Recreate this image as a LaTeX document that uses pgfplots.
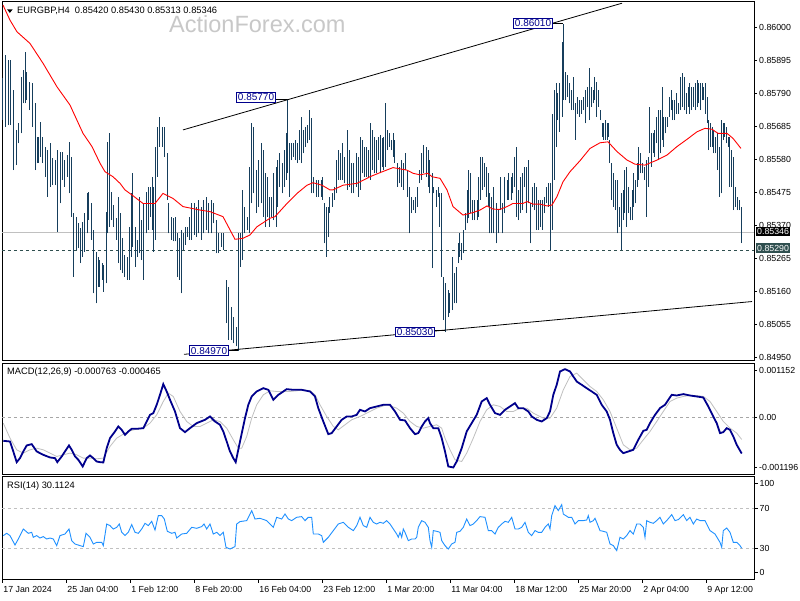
\documentclass[border=0pt]{standalone}
\usepackage{pgfplots}
\pgfplotsset{compat=1.18}
\usepackage{pgfplotstable}
\usepackage{fontspec}
\setmainfont{Liberation Sans}

\definecolor{barc}{RGB}{22,62,92}
\definecolor{navyt}{RGB}{0,0,140}
\definecolor{slate}{RGB}{47,79,79}
\definecolor{dodger}{RGB}{30,144,255}
\definecolor{silv}{RGB}{192,192,192}
\definecolor{wmark}{RGB}{200,200,200}
\newcommand\mtf{\fontsize{8.8}{10}\selectfont}
\newcommand\ttf{\fontsize{9.3}{10.5}\selectfont}

% H4 bars: x position, low, high
\pgfplotstableread{
x lo hi
3 0.85704 0.85837
6 0.85683 0.85911
9 0.85688 0.85895
11 0.85688 0.85895
14 0.85545 0.85800
17 0.85561 0.85673
19 0.85630 0.85694
22 0.85662 0.85842
24 0.85757 0.85863
26 0.85757 0.85922
27 0.85768 0.85858
30 0.85736 0.85826
33 0.85683 0.85821
36 0.85545 0.85757
38 0.85567 0.85651
40 0.85588 0.85699
42 0.85567 0.85651
45 0.85524 0.85620
47 0.85461 0.85609
50 0.85492 0.85630
52 0.85497 0.85583
55 0.85497 0.85577
57 0.85349 0.85609
60 0.85439 0.85604
62 0.85514 0.85604
64 0.85492 0.85577
67 0.85524 0.85593
69 0.85471 0.85635
71 0.85397 0.85588
73 0.85206 0.85408
76 0.85291 0.85397
78 0.85296 0.85376
80 0.85249 0.85360
82 0.85270 0.85381
84 0.85286 0.85408
87 0.85344 0.85471
88 0.85386 0.85476
91 0.85323 0.85439
93 0.85153 0.85355
96 0.85121 0.85286
98 0.85174 0.85270
99 0.85174 0.85259
102 0.85196 0.85249
103 0.85158 0.85243
106 0.85185 0.85413
107 0.85344 0.85635
109 0.85365 0.85662
111 0.85386 0.85476
113 0.85365 0.85434
116 0.85323 0.85392
118 0.85249 0.85461
120 0.85227 0.85408
122 0.85217 0.85328
124 0.85206 0.85275
127 0.85196 0.85270
129 0.85196 0.85365
131 0.85270 0.85471
132 0.85302 0.85535
135 0.85238 0.85365
137 0.85270 0.85323
139 0.85280 0.85461
141 0.85259 0.85386
143 0.85196 0.85439
146 0.85344 0.85476
148 0.85355 0.85492
150 0.85397 0.85492
152 0.85355 0.85524
153 0.85286 0.85492
155 0.85323 0.85620
157 0.85524 0.85683
159 0.85620 0.85715
162 0.85620 0.85683
164 0.85588 0.85683
167 0.85450 0.85598
168 0.85344 0.85439
171 0.85323 0.85397
173 0.85318 0.85392
175 0.85318 0.85397
177 0.85206 0.85344
179 0.85196 0.85328
181 0.85153 0.85355
183 0.85291 0.85344
185 0.85307 0.85365
187 0.85333 0.85365
189 0.85323 0.85397
191 0.85323 0.85439
194 0.85339 0.85439
196 0.85333 0.85429
198 0.85344 0.85450
201 0.85323 0.85429
203 0.85344 0.85450
206 0.85355 0.85461
208 0.85344 0.85439
211 0.85344 0.85450
213 0.85376 0.85439
216 0.85280 0.85386
218 0.85280 0.85344
221 0.85302 0.85344
223 0.85291 0.85344
226 0.85058 0.85196
228 0.85005 0.85174
231 0.85005 0.85111
233 0.84994 0.85079
236 0.84984 0.85047
238 0.84970 0.85344
240 0.85238 0.85344
242 0.85259 0.85482
244 0.85344 0.85429
247 0.85355 0.85397
249 0.85344 0.85556
251 0.85439 0.85694
253 0.85471 0.85683
256 0.85408 0.85545
258 0.85429 0.85577
261 0.85439 0.85630
263 0.85397 0.85609
265 0.85365 0.85535
267 0.85397 0.85524
269 0.85365 0.85461
271 0.85397 0.85461
273 0.85386 0.85535
276 0.85365 0.85556
277 0.85429 0.85577
279 0.85492 0.85598
282 0.85471 0.85567
284 0.85492 0.85609
286 0.85514 0.85662
287 0.85535 0.85770
289 0.85461 0.85630
291 0.85577 0.85630
293 0.85588 0.85630
295 0.85577 0.85641
297 0.85567 0.85630
299 0.85577 0.85673
301 0.85567 0.85715
303 0.85598 0.85673
305 0.85620 0.85683
307 0.85630 0.85688
309 0.85641 0.85736
311 0.85471 0.85710
313 0.85471 0.85524
316 0.85461 0.85514
318 0.85461 0.85514
321 0.85461 0.85514
322 0.85450 0.85524
324 0.85312 0.85439
326 0.85270 0.85429
328 0.85333 0.85429
329 0.85408 0.85461
332 0.85429 0.85471
334 0.85450 0.85492
336 0.85471 0.85577
338 0.85514 0.85609
340 0.85514 0.85598
342 0.85514 0.85630
344 0.85503 0.85588
347 0.85482 0.85673
349 0.85492 0.85609
351 0.85471 0.85567
353 0.85471 0.85567
356 0.85492 0.85598
358 0.85461 0.85588
360 0.85482 0.85651
362 0.85535 0.85641
364 0.85524 0.85620
366 0.85524 0.85620
368 0.85519 0.85609
370 0.85514 0.85694
372 0.85545 0.85673
374 0.85535 0.85651
376 0.85535 0.85641
378 0.85577 0.85651
380 0.85535 0.85657
382 0.85556 0.85646
383 0.85545 0.85651
385 0.85556 0.85757
387 0.85609 0.85673
389 0.85620 0.85662
391 0.85609 0.85641
393 0.85588 0.85662
394 0.85567 0.85641
397 0.85492 0.85567
399 0.85503 0.85556
401 0.85492 0.85577
403 0.85482 0.85567
405 0.85545 0.85598
407 0.85461 0.85545
409 0.85344 0.85492
411 0.85408 0.85461
413 0.85418 0.85450
415 0.85408 0.85461
417 0.85429 0.85492
419 0.85503 0.85545
421 0.85514 0.85598
423 0.85535 0.85625
426 0.85524 0.85620
428 0.85492 0.85609
429 0.85471 0.85577
432 0.85233 0.85535
433 0.85471 0.85492
436 0.85429 0.85482
438 0.85461 0.85492
439 0.85365 0.85471
441 0.85206 0.85471
443 0.85068 0.85206
445 0.85030 0.85185
448 0.85079 0.85164
449 0.85090 0.85153
452 0.85100 0.85270
454 0.85121 0.85217
456 0.85121 0.85238
458 0.85249 0.85312
459 0.85270 0.85344
461 0.85259 0.85312
463 0.85280 0.85355
465 0.85355 0.85408
467 0.85376 0.85482
468 0.85392 0.85545
470 0.85408 0.85535
472 0.85386 0.85450
474 0.85386 0.85450
477 0.85386 0.85450
478 0.85397 0.85524
480 0.85450 0.85588
482 0.85482 0.85588
484 0.85492 0.85567
486 0.85461 0.85556
488 0.85429 0.85535
489 0.85344 0.85471
491 0.85344 0.85461
493 0.85344 0.85492
496 0.85312 0.85439
498 0.85344 0.85418
500 0.85418 0.85524
502 0.85344 0.85439
504 0.85408 0.85524
507 0.85450 0.85514
508 0.85450 0.85535
511 0.85450 0.85524
512 0.85471 0.85535
514 0.85492 0.85588
516 0.85397 0.85620
518 0.85386 0.85482
520 0.85408 0.85524
522 0.85418 0.85535
524 0.85492 0.85556
526 0.85408 0.85556
528 0.85439 0.85577
530 0.85312 0.85439
532 0.85429 0.85492
534 0.85418 0.85503
536 0.85355 0.85492
538 0.85355 0.85450
540 0.85365 0.85450
542 0.85355 0.85450
544 0.85408 0.85461
546 0.85439 0.85492
548 0.85429 0.85503
550 0.85290 0.85503
552 0.85355 0.85725
554 0.85514 0.85800
556 0.85620 0.85821
557 0.85704 0.85789
559 0.85667 0.85821
562 0.85715 0.85954
563 0.85768 0.86010
565 0.85768 0.85858
567 0.85778 0.85848
569 0.85757 0.85821
571 0.85736 0.85800
573 0.85736 0.85842
575 0.85641 0.85757
577 0.85725 0.85778
579 0.85715 0.85768
581 0.85725 0.85768
583 0.85736 0.85778
585 0.85694 0.85800
587 0.85747 0.85810
589 0.85704 0.85869
591 0.85747 0.85810
593 0.85757 0.85800
594 0.85768 0.85842
596 0.85715 0.85826
598 0.85747 0.85800
600 0.85704 0.85736
602 0.85651 0.85694
603 0.85641 0.85694
605 0.85641 0.85704
607 0.85641 0.85694
608 0.85651 0.85694
609 0.85567 0.85641
611 0.85450 0.85567
613 0.85429 0.85535
615 0.85418 0.85514
617 0.85344 0.85514
619 0.85365 0.85429
621 0.85290 0.85471
623 0.85386 0.85482
624 0.85408 0.85545
626 0.85365 0.85556
628 0.85408 0.85492
630 0.85386 0.85429
632 0.85386 0.85482
633 0.85429 0.85535
635 0.85439 0.85514
637 0.85492 0.85567
638 0.85514 0.85620
640 0.85535 0.85598
642 0.85535 0.85567
644 0.85514 0.85556
646 0.85397 0.85577
648 0.85492 0.85588
649 0.85598 0.85747
651 0.85556 0.85662
653 0.85598 0.85662
654 0.85588 0.85673
656 0.85630 0.85715
658 0.85577 0.85736
660 0.85598 0.85736
662 0.85641 0.85810
663 0.85620 0.85715
665 0.85662 0.85715
667 0.85683 0.85715
669 0.85715 0.85778
671 0.85736 0.85800
672 0.85704 0.85768
674 0.85704 0.85768
676 0.85725 0.85789
678 0.85725 0.85757
680 0.85736 0.85842
682 0.85747 0.85853
684 0.85736 0.85842
686 0.85725 0.85789
688 0.85747 0.85810
689 0.85725 0.85821
691 0.85736 0.85810
693 0.85747 0.85810
695 0.85736 0.85821
697 0.85747 0.85832
698 0.85757 0.85821
700 0.85736 0.85821
702 0.85768 0.85821
703 0.85768 0.85810
705 0.85725 0.85821
707 0.85694 0.85778
708 0.85609 0.85704
710 0.85620 0.85694
712 0.85620 0.85683
713 0.85598 0.85673
715 0.85598 0.85651
717 0.85545 0.85662
719 0.85461 0.85620
721 0.85471 0.85704
723 0.85641 0.85694
724 0.85651 0.85694
726 0.85630 0.85683
728 0.85620 0.85651
729 0.85492 0.85651
731 0.85492 0.85609
733 0.85418 0.85588
735 0.85429 0.85492
737 0.85418 0.85461
739 0.85418 0.85450
741 0.85313 0.85429
}\bars

\pgfplotsset{
  mtpanel/.style={
    anchor=north west, scale only axis, width=752pt,
    xmin=2, xmax=754,
    axis line style={black, line width=0.9pt},
    xtick=\empty, ytick pos=right, yticklabel pos=right,
    tick align=outside, major tick length=3pt,
    tick style={black, line width=0.6pt},
    scaled y ticks=false,
    tick label style={font=\mtf},
    yticklabel style={anchor=west, inner xsep=0pt, xshift=2pt},
  },
}

\begin{document}
\begin{tikzpicture}
\path[use as bounding box] (0pt,0pt) rectangle (800pt,-600pt);
\fill[white] (0pt,0pt) rectangle (800pt,-600pt);

% ---- price panel
\begin{axis}[mtpanel, at={(2pt,-1pt)}, height=359pt,
  ymin=0.84941, ymax=0.86083,
  ytick={0.86,0.85895,0.8579,0.85685,0.8558,0.85475,0.8537,0.85265,0.8516,0.85055,0.8495},
  yticklabels={0.86000,0.85895,0.85790,0.85685,0.85580,0.85475,0.85370,0.85265,0.85160,0.85055,0.84950}]
\addplot[silv, line width=0.9pt] coordinates {(2,0.85346) (754,0.85346)};
\addplot[slate, line width=0.9pt, dash pattern=on 3pt off 3pt] coordinates {(2,0.85290) (754,0.85290)};
\addplot[barc, line width=1pt, quiver={u=0, v=\thisrow{hi}-\thisrow{lo}}]
  table[x=x, y=lo] {\bars};
\addplot[red, line width=0.9pt] coordinates {
(3,0.86070) (10,0.86022) (17,0.85985) (30,0.85948) (43,0.85885) (57,0.85810)
(70,0.85752) (83,0.85662) (92,0.85620) (100,0.85567) (105,0.85540) (113,0.85524)
(120,0.85503) (125,0.85482) (132,0.85466) (143,0.85439) (155,0.85439) (163,0.85471)
(173,0.85455) (183,0.85429) (200,0.85418) (210,0.85413) (223,0.85397) (230,0.85355)
(235,0.85325) (243,0.85328) (250,0.85339) (257,0.85365) (270,0.85392) (275,0.85397)
(287,0.85439) (297,0.85471) (307,0.85497) (313,0.85505) (322,0.85497) (330,0.85482)
(333,0.85482) (343,0.85497) (357,0.85503) (370,0.85524) (380,0.85537) (393,0.85553)
(407,0.85545) (413,0.85535) (420,0.85530) (428,0.85535) (432,0.85524) (440,0.85519)
(447,0.85482) (453,0.85429) (463,0.85402) (473,0.85410) (480,0.85418) (487,0.85431)
(493,0.85421) (500,0.85420) (507,0.85429) (513,0.85439) (523,0.85439) (527,0.85445)
(533,0.85437) (540,0.85437) (547,0.85431) (552,0.85434) (557,0.85461) (563,0.85508)
(570,0.85540) (580,0.85575) (590,0.85614) (600,0.85632) (608,0.85635) (617,0.85604)
(627,0.85577) (635,0.85564) (645,0.85561) (657,0.85577) (667,0.85593) (677,0.85620)
(687,0.85643) (697,0.85667) (705,0.85678) (712,0.85675) (718,0.85662) (727,0.85662)
(733,0.85646) (741,0.85614)};
\addplot[black, line width=0.8pt] coordinates {(183,0.85673) (622,0.86076)};
\addplot[black, line width=0.8pt] coordinates {(184,0.84959) (752,0.85127)};
% extreme labels
\draw[black, line width=0.8pt] (axis cs:276,0.85770) -- (axis cs:287,0.85770);
\draw[black, line width=0.8pt] (axis cs:553,0.86012) -- (axis cs:563,0.86012);
\draw[black, line width=0.8pt] (axis cs:435,0.85035) -- (axis cs:445,0.85035);
\draw[black, line width=0.8pt] (axis cs:228,0.84973) -- (axis cs:238,0.84973);
\tikzset{hl/.style={draw=navyt, fill=white, text=navyt, line width=0.8pt,
  font=\fontsize{10}{11}\selectfont, inner xsep=1.5pt, inner ysep=1.2pt, anchor=east}}
\node[hl] at (axis cs:276,0.85777) {0.85770};
\node[hl] at (axis cs:553,0.86012) {0.86010};
\node[hl] at (axis cs:435,0.85031) {0.85030};
\node[hl] at (axis cs:229,0.84971) {0.84970};
\end{axis}

% ---- MACD panel
\begin{axis}[mtpanel, at={(2pt,-363pt)}, height=111pt,
  ymin=-0.001196, ymax=0.001152,
  ytick={0.001004,0,-0.001048},
  yticklabels={0.001152,0.00,-0.001196}]
\addplot[gray!70, line width=0.7pt, dash pattern=on 3pt off 3pt] coordinates {(2,0) (754,0)};
\addplot[silv, line width=0.8pt] coordinates {
(3.3,-0.000120) (10,-0.000437) (16.7,-0.000684) (23.3,-0.000754) (30,-0.000684)
(36.7,-0.000649) (43.3,-0.000684) (50,-0.000754) (56.7,-0.000825) (63.3,-0.000790)
(70,-0.000754) (76.7,-0.000790) (83.3,-0.000860) (90,-0.000860) (96.7,-0.000874)
(103.3,-0.000860) (110,-0.000613) (116.7,-0.000437) (123.3,-0.000353) (130,-0.000282)
(136.7,-0.000247) (143.3,-0.000226) (150,-0.000120) (156.7,0.000056) (163.3,0.000338)
(168.3,0.000515) (173.3,0.000444) (180,0.000127) (186.7,-0.000085) (193.3,-0.000190)
(200,-0.000190) (206.7,-0.000120) (213.3,-0.000049) (220,-0.000085) (226.7,-0.000226)
(233.3,-0.000472) (238.3,-0.000649) (241.7,-0.000649) (246.7,-0.000402) (251.7,-0.000014)
(256.7,0.000268) (263.3,0.000479) (270,0.000564) (276.7,0.000550) (283.3,0.000550)
(290,0.000550) (296.7,0.000564) (303.3,0.000585) (310,0.000564) (315,0.000479)
(320,0.000268) (326.7,0.000021) (333.3,-0.000190) (338.3,-0.000261) (345,-0.000155)
(351.7,-0.000049) (360,0.000021) (366.7,0.000092) (376.7,0.000197) (386.7,0.000268)
(396.7,0.000197) (403.3,0.000092) (410,-0.000085) (416.7,-0.000190) (423.3,-0.000226)
(430,-0.000190) (436.7,-0.000155) (441.7,-0.000226) (445,-0.000437) (450,-0.000684)
(455,-0.000895) (461.7,-0.000931) (466.7,-0.000754) (473.3,-0.000437) (480,-0.000085)
(486.7,0.000162) (493.3,0.000268) (500,0.000233) (506.7,0.000127) (513.3,0.000127)
(520,0.000197) (526.7,0.000197) (533.3,0.000092) (543.3,-0.000014) (550,-0.000014)
(556.7,0.000197) (563.3,0.000585) (570,0.000867) (576.7,0.000938) (583.3,0.000797)
(590,0.000656) (596.7,0.000550) (603.3,0.000374) (610,0.000127) (616.7,-0.000226)
(623.3,-0.000578) (630,-0.000684) (636.7,-0.000649) (643.3,-0.000472) (650,-0.000296)
(656.7,-0.000085) (663.3,0.000127) (670,0.000338) (676.7,0.000409) (683.3,0.000444)
(690,0.000465) (696.7,0.000465) (703.3,0.000444) (710,0.000338) (716.7,0.000127)
(723.3,-0.000085) (730,-0.000226) (736.7,-0.000331) (741.7,-0.000465)};
\addplot[navyt, line width=1.8pt] coordinates {
(3.3,-0.000494) (10,-0.000508) (13.3,-0.000719) (16.7,-0.000945) (20,-0.000860)
(23.3,-0.000719) (26.7,-0.000592) (31.7,-0.000564) (33.3,-0.000613) (36.7,-0.000719)
(43.3,-0.000790) (50,-0.000846) (55,-0.000860) (57.3,-0.000945) (61.7,-0.000825)
(65,-0.000719) (69,-0.000592) (71.7,-0.000684) (75,-0.000825) (78.3,-0.000895)
(82.7,-0.001036) (86.7,-0.000860) (90,-0.000804) (93.3,-0.000860) (96.7,-0.000931)
(100,-0.000945) (103.3,-0.000952) (106.7,-0.000649) (110,-0.000437) (115,-0.000296)
(118.3,-0.000190) (121.7,-0.000261) (125,-0.000367) (128.3,-0.000296) (131.7,-0.000240)
(136.7,-0.000240) (143.3,-0.000226) (146.7,-0.000085) (150,0.000056) (153.3,0.000092)
(156.7,0.000268) (160,0.000479) (163.3,0.000705) (166.7,0.000550) (170,0.000374)
(175,0.000127) (180,-0.000226) (185,-0.000310) (190,-0.000226) (196.7,-0.000120)
(205,-0.000049) (210,0.000021) (215,-0.000085) (220,-0.000155) (223.3,-0.000296)
(226.7,-0.000508) (230,-0.000719) (233.3,-0.000860) (235.7,-0.000945) (240,-0.000508)
(245,-0.000014) (248.3,0.000268) (251.7,0.000444) (256.7,0.000550) (263.3,0.000620)
(268.3,0.000585) (273.3,0.000374) (278.3,0.000479) (283.3,0.000550) (286.7,0.000599)
(293.3,0.000585) (301.7,0.000585) (310,0.000550) (315,0.000444) (318.3,0.000197)
(323.3,-0.000085) (328.3,-0.000353) (331.7,-0.000331) (336.7,-0.000190) (341.7,-0.000049)
(346.7,0.000021) (351.7,0.000021) (356.7,0.000056) (360,0.000162) (365,0.000127)
(370,0.000197) (376.7,0.000233) (383.3,0.000268) (390,0.000268) (395,0.000127)
(400,-0.000049) (405,-0.000063) (410,-0.000226) (415,-0.000353) (418.3,-0.000331)
(421.7,-0.000190) (425,-0.000085) (428.3,-0.000014) (430,-0.000120) (433.3,-0.000226)
(438.3,-0.000226) (441.7,-0.000437) (445,-0.000719) (448.3,-0.001036) (453.3,-0.001058)
(456.7,-0.000931) (461.7,-0.000649) (466.7,-0.000296) (471.7,-0.000120) (476.7,0.000056)
(481.7,0.000338) (486.7,0.000409) (490,0.000268) (495,0.000092) (500,0.000056)
(505,0.000162) (510,0.000233) (515,0.000303) (518.3,0.000197) (523.3,0.000197)
(528.3,0.000127) (531.7,0.000021) (536.7,-0.000049) (541.7,-0.000085) (546.7,-0.000014)
(550,0.000127) (553.3,0.000479) (556.7,0.000691) (560,0.000973) (565,0.001022)
(570,0.000973) (573.3,0.000867) (576.7,0.000761) (581.7,0.000691) (586.7,0.000620)
(591.7,0.000550) (596.7,0.000479) (601.7,0.000268) (606.7,0.000127) (610,-0.000049)
(613.3,-0.000331) (616.7,-0.000578) (620,-0.000684) (623.3,-0.000754) (628.3,-0.000719)
(633.3,-0.000684) (638.3,-0.000472) (643.3,-0.000282) (646.7,-0.000261) (650,-0.000120)
(655,0.000056) (660,0.000197) (665,0.000268) (671.7,0.000479) (676.7,0.000465)
(683.3,0.000494) (690,0.000465) (696.7,0.000444) (703.3,0.000423) (708.3,0.000233)
(713.3,0.000021) (716.7,-0.000120) (720,-0.000331) (723.3,-0.000310) (726.7,-0.000226)
(730,-0.000261) (733.3,-0.000402) (736.7,-0.000578) (741.7,-0.000763)};
\end{axis}

% ---- RSI panel
\begin{axis}[mtpanel, at={(2pt,-476.7pt)}, height=102.3pt,
  ymin=-0.7, ymax=101.6,
  ytick={95,70,30,5.6}, yticklabels={100,70,30,0},
  xtick={2.7,66.7,130.7,194.7,258.7,322.7,386.7,450.7,514.7,578.7,642.7,706.7},
  xticklabels={17 Jan 2024,25 Jan 04:00,1 Feb 12:00,8 Feb 20:00,16 Feb 04:00,23 Feb 12:00,1 Mar 20:00,11 Mar 04:00,18 Mar 12:00,25 Mar 20:00,2 Apr 04:00,9 Apr 12:00},
  xtick pos=bottom, major tick length=3.5pt,
  xticklabel style={anchor=north west, inner xsep=0pt, xshift=0.5pt}]
\addplot[silv, line width=0.8pt, dash pattern=on 3pt off 3pt] coordinates {(2,70) (754,70)};
\addplot[silv, line width=0.8pt, dash pattern=on 3pt off 3pt] coordinates {(2,30) (754,30)};
\addplot[dodger, line width=0.9pt] coordinates {
(3.3,42.7) (6.7,45) (10,42.7) (15,33.3) (18.3,39.3) (23.3,49.3) (28.3,45) (31.7,46)
(33.3,41) (36.7,42.7) (40,40.3) (43.3,41.7) (46.7,39.3) (50,40.3) (53.3,39.3) (56.7,32.7)
(60,42.7) (65,44.3) (69,49.3) (71.7,37.7) (75,34.3) (80,32.7) (83.3,31.7) (86,45)
(90,41) (93.3,34.3) (96.7,36) (101.7,36) (103.3,32.7) (106.7,54.3) (110,52.7) (113.3,49.3)
(116.7,51) (119.3,54.3) (121.7,46) (125,42.7) (128.3,46) (131.7,53.7) (135,46) (138.3,45)
(141.7,49.3) (145,55) (148.3,52.7) (151.7,57) (155,48.3) (158.3,62.7) (161.7,62.7)
(164.3,59.3) (167.3,47) (171.7,45) (175,46) (176.7,40.3) (181.7,44.3) (186.7,45)
(191.7,51) (196.7,50) (201.7,51.7) (204,54.3) (206.7,49.3) (210,54.3) (213.3,44.3)
(216.7,46) (220,42.7) (223.3,46) (226,31) (230,29.3) (235,31.7) (236.7,54.3) (240,56.7)
(246.7,57.7) (251.7,67.7) (255,59.3) (260,60) (266.7,57.7) (270,54.3) (273.3,51)
(276.7,61) (281.7,59.3) (285,64.3) (288.3,59.3) (291.7,57.7) (296.7,61) (301.7,61.7)
(305,57.7) (308.3,61) (311.7,61) (313.3,44.3) (318.3,44.3) (321.7,42.7) (323.3,36)
(328.3,41) (333.3,47.7) (338.3,54.3) (343.3,56) (348.3,51) (353.3,47.7) (356.7,52.7)
(360,61) (363.3,52.7) (366.7,51) (370,61) (373.3,56) (376.7,54.3) (380,56) (383.3,55)
(386.7,57.7) (390,54.3) (393.3,49.3) (396.7,44.3) (398.3,41) (400,46) (401.7,41)
(403.3,49.3) (405,46) (408.3,37.7) (411.7,39.3) (415,39.3) (416.7,41) (418.3,51)
(421.7,57.7) (425,56) (428.3,51) (430,37.7) (431.7,31) (433.3,47.7) (436.7,47) (440,46)
(441.7,37.7) (445,32.7) (448.3,29.3) (451.7,34.3) (455,36) (456.7,46) (460,47)
(463.3,51) (466.7,59.3) (470,52.7) (473.3,54.3) (476.7,57.7) (480,61.7) (485,61)
(488.3,47.7) (491.7,47.7) (495,44.3) (498.3,51) (501.7,54.3) (505,57) (508.3,56)
(511.7,61) (515,49.3) (518.3,49.3) (521.7,51) (525,56) (528.3,46) (531.7,42.7)
(535,47.7) (538.3,46) (541.7,46) (545,51) (548.3,54.3) (550,49.3) (551.7,62.7)
(555,72.7) (558.3,67.7) (561.7,73.7) (563.3,64.3) (568.3,61) (571.7,61) (575,54.3)
(578.3,57.7) (583.3,57.7) (586.7,58.3) (588.3,62.7) (590,56) (593.3,57.7) (595,60)
(596.7,56) (600,47.7) (603.3,47) (606.7,46) (610,34.3) (613.3,32.7) (616.7,27.7)
(620,41) (623.3,39.3) (626.7,42.7) (630,47.7) (633.3,44.3) (636.7,54.3) (640,54.3)
(643.3,51) (645,41) (646.7,57.7) (650,56) (653.3,55) (656.7,57.7) (660,61) (663.3,54.3)
(666.7,57.7) (671.7,63.7) (675,57.7) (678.3,58.7) (683.3,63.7) (686.7,57.7) (690,61)
(693.3,54.3) (696.7,59.3) (700,57.7) (705,57.7) (710,47.7) (715,44.3) (720,36)
(721.7,31) (723.3,47.7) (726.7,50.3) (730,46) (733.3,36) (736.7,36) (740,32.7)
(741.7,30.1)};
\end{axis}

% ---- texts on top
\fill[black] (7pt,-9.3pt) -- (12.7pt,-9.3pt) -- (9.85pt,-12.9pt) -- cycle;
\node[anchor=west, inner sep=0pt, font=\ttf] at (17pt,-10.7pt)
  {EURGBP,H4\ \ 0.85420 0.85430 0.85313 0.85346};
\node[anchor=west, inner sep=0pt, text=wmark, font=\fontsize{23.5}{26}\selectfont]
  at (169pt,-24pt) {ActionForex.com};
\node[anchor=west, inner sep=0pt, font=\ttf] at (7pt,-372pt)
  {MACD(12,26,9) -0.000763 -0.000465};
\node[anchor=west, inner sep=0pt, font=\ttf] at (7pt,-486pt) {RSI(14) 30.1124};
\node[anchor=west, fill=black, text=white, font=\mtf, inner xsep=1pt, inner ysep=1.5pt]
  at (756pt,-231.5pt) {0.85346};
\node[anchor=west, fill=slate, text=white, font=\mtf, inner xsep=1pt, inner ysep=1.5pt]
  at (756pt,-248pt) {0.85290};
\end{tikzpicture}
\end{document}
